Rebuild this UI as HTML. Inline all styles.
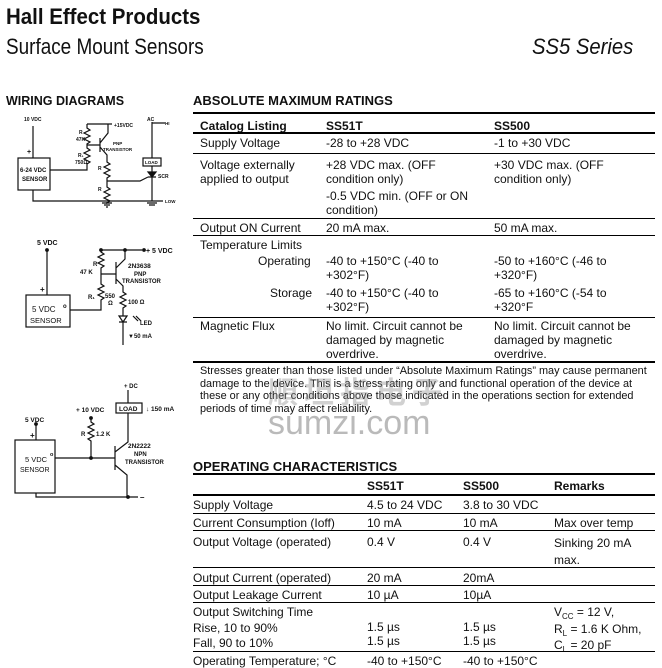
<!DOCTYPE html>
<html><head><meta charset="utf-8"><style>
*{margin:0;padding:0}
body{width:662px;height:667px;background:#fff;position:relative;overflow:hidden;font-family:"Liberation Sans",Arial,sans-serif;color:#111}
.a{position:absolute;white-space:nowrap}
.t{font-size:12px;line-height:14px}
.h{position:absolute;left:193px;width:462px;background:#000}
.n{transform-origin:0 0}
.s{font-size:8px;position:relative;top:3px}
</style></head><body>
<div class="a n" style="left:6px;top:4px;font-size:22px;font-weight:bold;transform:scaleX(.93)">Hall Effect Products</div>
<div class="a n" style="left:6px;top:34px;font-size:22px;transform:scaleX(.86)">Surface Mount Sensors</div>
<div class="a n" style="left:532px;top:34px;font-size:22px;font-style:italic;transform:scaleX(.92)">SS5 Series</div>
<div class="a" style="left:6px;top:94px;font-size:12.5px;font-weight:bold">WIRING DIAGRAMS</div>
<div class="a" style="left:193px;top:93px;font-size:13px;font-weight:bold">ABSOLUTE MAXIMUM RATINGS</div>

<div class="h" style="top:112px;height:2px"></div>
<div class="a t" style="left:200px;top:119px;font-weight:bold">Catalog Listing</div>
<div class="a t" style="left:326px;top:119px;font-weight:bold">SS51T</div>
<div class="a t" style="left:494px;top:119px;font-weight:bold">SS500</div>
<div class="h" style="top:132px;height:2px"></div>
<div class="a t" style="left:200px;top:136px">Supply Voltage</div>
<div class="a t" style="left:326px;top:136px">-28 to +28 VDC</div>
<div class="a t" style="left:494px;top:136px">-1 to +30 VDC</div>
<div class="h" style="top:153px;height:1px"></div>
<div class="a t" style="left:200px;top:158px">Voltage externally<br>applied to output</div>
<div class="a t" style="left:326px;top:158px">+28 VDC max. (OFF<br>condition only)</div>
<div class="a t" style="left:326px;top:189px">-0.5 VDC min. (OFF or ON<br>condition)</div>
<div class="a t" style="left:494px;top:158px">+30 VDC max. (OFF<br>condition only)</div>
<div class="h" style="top:218px;height:1px"></div>
<div class="a t" style="left:200px;top:221px">Output ON Current</div>
<div class="a t" style="left:326px;top:221px">20 mA max.</div>
<div class="a t" style="left:494px;top:221px">50 mA max.</div>
<div class="h" style="top:235px;height:1px"></div>
<div class="a t" style="left:200px;top:238px">Temperature Limits</div>
<div class="a t" style="left:258px;top:254px">Operating</div>
<div class="a t" style="left:326px;top:254px">-40 to +150°C (-40 to<br>+302°F)</div>
<div class="a t" style="left:494px;top:254px">-50 to +160°C (-46 to<br>+320°F)</div>
<div class="a t" style="left:270px;top:286px">Storage</div>
<div class="a t" style="left:326px;top:286px">-40 to +150°C (-40 to<br>+302°F)</div>
<div class="a t" style="left:494px;top:286px">-65 to +160°C (-54 to<br>+320°F</div>
<div class="h" style="top:317px;height:1px"></div>
<div class="a t" style="left:200px;top:319px">Magnetic Flux</div>
<div class="a t" style="left:326px;top:319px">No limit. Circuit cannot be<br>damaged by magnetic<br>overdrive.</div>
<div class="a t" style="left:494px;top:319px">No limit. Circuit cannot be<br>damaged by magnetic<br>overdrive.</div>
<div class="h" style="top:361px;height:2px"></div>
<div class="a" style="left:200px;top:365px;font-size:10.9px;line-height:12.5px">Stresses greater than those listed under “Absolute Maximum Ratings” may cause permanent<br>damage to the device. This is a stress rating only and functional operation of the device at<br>these or any other conditions above those indicated in the operations section for extended<br>periods of time may affect reliability.</div>
<div class="a" style="left:268px;top:368px;font-size:30px;color:rgba(140,140,140,.4);font-family:'Liberation Sans','Noto Sans CJK SC',sans-serif;font-weight:bold;letter-spacing:6px">順坦指电子</div>
<div class="a" style="left:268px;top:404px;font-size:34px;color:rgba(130,130,130,.55)">sumzi.com</div>

<div class="a" style="left:193px;top:459px;font-size:13px;font-weight:bold">OPERATING CHARACTERISTICS</div>
<div class="h" style="top:473px;height:2px"></div>
<div class="a t" style="left:367px;top:479px;font-weight:bold">SS51T</div>
<div class="a t" style="left:463px;top:479px;font-weight:bold">SS500</div>
<div class="a t" style="left:554px;top:479px;font-weight:bold">Remarks</div>
<div class="h" style="top:494px;height:2px"></div>
<div class="a t" style="left:193px;top:498px">Supply Voltage</div>
<div class="a t" style="left:367px;top:498px">4.5 to 24 VDC</div>
<div class="a t" style="left:463px;top:498px">3.8 to 30 VDC</div>
<div class="h" style="top:513px;height:1px"></div>
<div class="a t" style="left:193px;top:516px">Current Consumption (Ioff)</div>
<div class="a t" style="left:367px;top:516px">10 mA</div>
<div class="a t" style="left:463px;top:516px">10 mA</div>
<div class="a t" style="left:554px;top:516px">Max over temp</div>
<div class="h" style="top:530px;height:1px"></div>
<div class="a t" style="left:193px;top:535px">Output Voltage (operated)</div>
<div class="a t" style="left:367px;top:535px">0.4 V</div>
<div class="a t" style="left:463px;top:535px">0.4 V</div>
<div class="a t" style="left:554px;top:535px;line-height:17px">Sinking 20 mA<br>max.</div>
<div class="h" style="top:567px;height:1px"></div>
<div class="a t" style="left:193px;top:571px">Output Current (operated)</div>
<div class="a t" style="left:367px;top:571px">20 mA</div>
<div class="a t" style="left:463px;top:571px">20mA</div>
<div class="h" style="top:585px;height:1px"></div>
<div class="a t" style="left:193px;top:588px">Output Leakage Current</div>
<div class="a t" style="left:367px;top:588px">10 µA</div>
<div class="a t" style="left:463px;top:588px">10µA</div>
<div class="h" style="top:602px;height:1px"></div>
<div class="a t" style="left:193px;top:605px;line-height:15.5px">Output Switching Time<br>Rise, 10 to 90%<br>Fall, 90 to 10%</div>
<div class="a t" style="left:367px;top:620px">1.5 µs<br>1.5 µs</div>
<div class="a t" style="left:463px;top:620px">1.5 µs<br>1.5 µs</div>
<div class="a t" style="left:554px;top:605px;line-height:15.5px">V<span class="s">CC</span> = 12 V,<br>R<span class="s">L</span> = 1.6 K Ohm,<br>C<span class="s">L</span> = 20 pF</div>
<div class="h" style="top:651px;height:1px"></div>
<div class="a t" style="left:193px;top:654px">Operating Temperature; °C</div>
<div class="a t" style="left:367px;top:654px">-40 to +150°C</div>
<div class="a t" style="left:463px;top:654px">-40 to +150°C</div>

<svg class="a" style="left:0;top:0" width="190" height="667" viewBox="0 0 190 667" font-family="Liberation Sans,Arial,sans-serif" font-weight="bold" fill="none" stroke="#111" stroke-width="1.2">
<g>
<text x="24" y="121" font-size="5" fill="#111" stroke="none">10 VDC</text>
<path d="M33 126V158"/>
<rect x="18" y="158" width="32" height="32"/>
<text x="27" y="154" font-size="7" fill="#111" stroke="none">+</text>
<text x="20" y="172" font-size="6" fill="#111" stroke="none">6-24 VDC</text>
<text x="22" y="181" font-size="6" fill="#111" stroke="none">SENSOR</text>
<path d="M50 170H87V163M87 124H112M87 124V128l3 2-6 3 6 3-6 3 6 3-3 2V148l3 2-6 3 6 3-6 3 6 3-3 2V170M87 145H100M100 138V152M100 143l8-10V124M100 147l7 8V162l3 2-6 3 6 3-6 3 6 3-3 2V182V187l3 2-6 3 6 3-6 3 6 3-3 2V202M107 181H140l8-4"/>
<text x="114" y="127" font-size="5" fill="#111" stroke="none">+15VDC</text>
<text x="79" y="134" font-size="5" fill="#111" stroke="none">R</text>
<text x="76" y="141" font-size="5" fill="#111" stroke="none">47K</text>
<text x="78" y="157" font-size="5" fill="#111" stroke="none">R₁</text>
<text x="75" y="164" font-size="5" fill="#111" stroke="none">750Ω</text>
<text x="113" y="145" font-size="4.5" fill="#111" stroke="none">PNP</text>
<text x="103" y="151" font-size="4.5" fill="#111" stroke="none">TRANSISTOR</text>
<text x="98" y="170" font-size="5" fill="#111" stroke="none">R</text>
<text x="98" y="191" font-size="5" fill="#111" stroke="none">R</text>
<path d="M33 190V201H163M152 122V158M152 166V201M152 123H165M102 203H112M104 205H110M106 207H108M147 203H157M149 205H155"/>
<rect x="143" y="158" width="18" height="8"/>
<text x="145" y="164" font-size="4.5" fill="#111" stroke="none">LOAD</text>
<path d="M148 172H156L152 177Z M148 177H156" fill="#111"/>
<text x="158" y="178" font-size="5" fill="#111" stroke="none">SCR</text>
<text x="147" y="121" font-size="5" fill="#111" stroke="none">AC</text>
<text x="165" y="125" font-size="4.5" fill="#111" stroke="none">HI</text>
<text x="165" y="203" font-size="4.5" fill="#111" stroke="none">LOW</text>
</g>
<g>
<text x="37" y="245" font-size="7" fill="#111" stroke="none">5 VDC</text>
<path d="M47 250V295"/>
<text x="40" y="292" font-size="8" fill="#111" stroke="none">+</text>
<rect x="26" y="295" width="44" height="32"/>
<text x="32" y="312" font-size="8" font-weight="normal" fill="#111" stroke="none">5 VDC</text>
<text x="30" y="323" font-size="7.5" font-weight="normal" fill="#111" stroke="none">SENSOR</text>
<text x="63" y="308" font-size="6" fill="#111" stroke="none">o</text>
<path d="M70 310H101V300l3 -2-6-3 6-3-6-3 6-3-3-2V274V268l3-2-6-3 6-3-6-3 6-3-3-2V250H142M101 274H116M116 262V284M116 268l9-9V250M116 279l7 7V292l3 2-6 3 6 3-6 3 6 3-3 2V316M119 316H127L123 322ZM119 322H127M123 322V345"/>
<circle cx="47" cy="250" r="1.3" fill="#111"/><circle cx="101" cy="250" r="1.3" fill="#111"/><circle cx="125" cy="250" r="1.3" fill="#111"/><circle cx="144" cy="250" r="1.3" fill="#111"/>
<text x="146" y="253" font-size="7" fill="#111" stroke="none">+ 5 VDC</text>
<text x="93" y="266" font-size="6" fill="#111" stroke="none">R</text>
<text x="80" y="274" font-size="6" fill="#111" stroke="none">47 K</text>
<text x="128" y="268" font-size="6.5" fill="#111" stroke="none">2N3638</text>
<text x="134" y="276" font-size="6" fill="#111" stroke="none">PNP</text>
<text x="122" y="283" font-size="6" fill="#111" stroke="none">TRANSISTOR</text>
<text x="88" y="299" font-size="6" fill="#111" stroke="none">R₁</text>
<text x="105" y="298" font-size="6" fill="#111" stroke="none">550</text>
<text x="108" y="305" font-size="6" fill="#111" stroke="none">Ω</text>
<text x="128" y="304" font-size="6" fill="#111" stroke="none">100 Ω</text>
<text x="140" y="325" font-size="6" fill="#111" stroke="none">LED</text>
<path d="M133 316l5 5M136 316l5 5"/>
<text x="128" y="338" font-size="6" fill="#111" stroke="none">▼50 mA</text>
</g>
<g>
<text x="124" y="388" font-size="6" fill="#111" stroke="none">+ DC</text>
<path d="M128 390V403"/>
<rect x="116" y="403" width="26" height="10"/>
<text x="119" y="411" font-size="6.5" fill="#111" stroke="none">LOAD</text>
<text x="146" y="411" font-size="6.5" fill="#111" stroke="none">↓ 150 mA</text>
<text x="76" y="412" font-size="6.5" fill="#111" stroke="none">+ 10 VDC</text>
<text x="25" y="422" font-size="6.5" fill="#111" stroke="none">5 VDC</text>
<path d="M36 424V440M91 418V422l3 2-6 3 6 3-6 3 6 3-6 3 3 2V458M55 458H115M115 446V470M115 452l13-10V413M115 465l12 10V497M36 493V497H138"/>
<circle cx="36" cy="424" r="1.3" fill="#111"/><circle cx="91" cy="418" r="1.3" fill="#111"/><circle cx="91" cy="458" r="1.3" fill="#111"/><circle cx="128" cy="497" r="1.3" fill="#111"/>
<text x="30" y="438" font-size="8" fill="#111" stroke="none">+</text>
<rect x="15" y="440" width="40" height="53"/>
<text x="25" y="462" font-size="7.5" font-weight="normal" fill="#111" stroke="none">5 VDC</text>
<text x="20" y="472" font-size="7" font-weight="normal" fill="#111" stroke="none">SENSOR</text>
<text x="50" y="456" font-size="5.5" fill="#111" stroke="none">o</text>
<text x="81" y="436" font-size="6" fill="#111" stroke="none">R</text>
<text x="96" y="436" font-size="6" fill="#111" stroke="none">1.2 K</text>
<text x="128" y="448" font-size="6.5" fill="#111" stroke="none">2N2222</text>
<text x="134" y="456" font-size="6" fill="#111" stroke="none">NPN</text>
<text x="125" y="464" font-size="6" fill="#111" stroke="none">TRANSISTOR</text>
<text x="140" y="500" font-size="8" fill="#111" stroke="none">–</text>
</g>
</svg>
</body></html>
